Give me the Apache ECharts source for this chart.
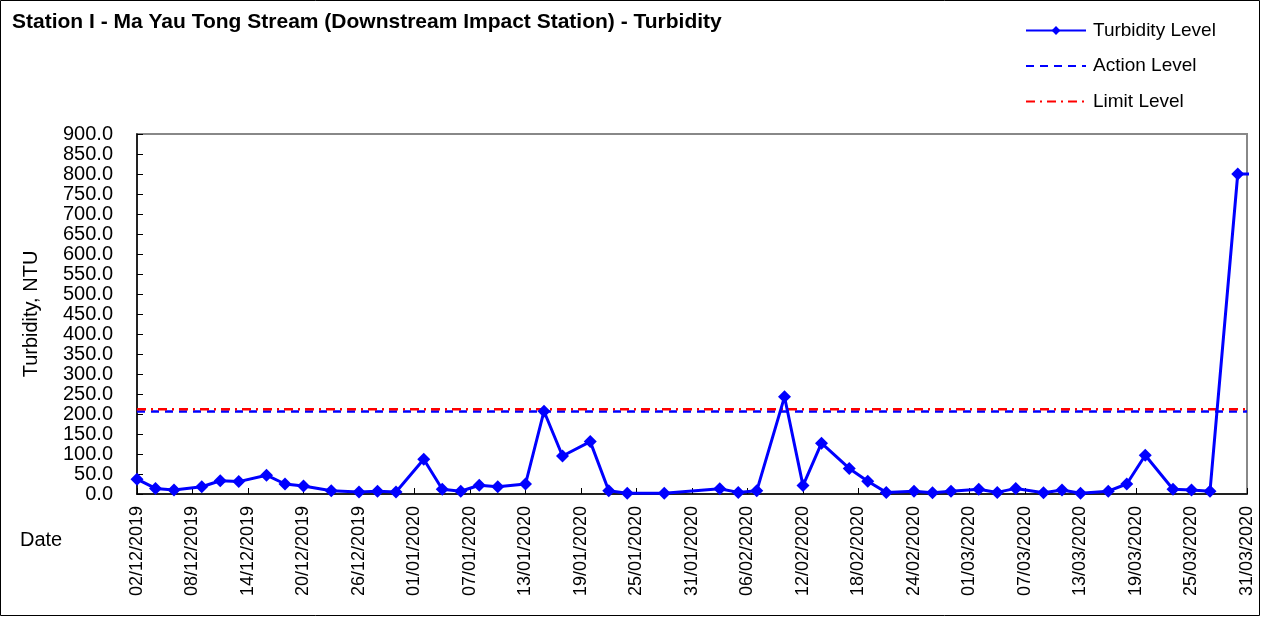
<!DOCTYPE html>
<html>
<head>
<meta charset="utf-8">
<title>Station I - Turbidity</title>
<script src="https://cdn.jsdelivr.net/npm/echarts@6/dist/echarts.min.js"></script>
<style>
  html, body { margin: 0; padding: 0; background: #fff; }
  #chart { width: 1261px; height: 617px; }
</style>
</head>
<body>
<div id="chart"></div>
<script>
// Sampling dates (dd/mm/yyyy) and measured turbidity in NTU
const sampleDates = [
  '02/12/2019', '04/12/2019', '06/12/2019', '09/12/2019', '11/12/2019', '13/12/2019',
  '16/12/2019', '18/12/2019', '20/12/2019', '23/12/2019', '26/12/2019', '28/12/2019',
  '30/12/2019', '02/01/2020', '04/01/2020', '06/01/2020', '08/01/2020', '10/01/2020',
  '13/01/2020', '15/01/2020', '17/01/2020', '20/01/2020', '22/01/2020', '24/01/2020',
  '28/01/2020', '03/02/2020', '05/02/2020', '07/02/2020', '10/02/2020', '12/02/2020',
  '14/02/2020', '17/02/2020', '19/02/2020', '21/02/2020', '24/02/2020', '26/02/2020',
  '28/02/2020', '02/03/2020', '04/03/2020', '06/03/2020', '09/03/2020', '11/03/2020',
  '13/03/2020', '16/03/2020', '18/03/2020', '20/03/2020', '23/03/2020', '25/03/2020',
  '27/03/2020', '30/03/2020', '01/04/2020'
];
const turbidity = [
  37, 14, 10, 18, 33, 31,
  47, 25, 20, 8, 5, 7,
  5, 87, 12, 7, 22, 18,
  25, 207, 95, 131, 8, 2,
  2, 13, 4, 8, 243, 21,
  127, 64, 32, 4, 7, 3,
  7, 12, 4, 14, 3, 10,
  2, 7, 25, 97, 12, 10,
  7, 800, 800
];

// Compliance levels (NTU)
const actionLevel = 206;
const limitLevel = 212;

// Axis range
const axisStart = '02/12/2019';
const axisEnd = '31/03/2020';
const tickDays = 6;
const yMax = 900;
const yStep = 50;

const DAY = 86400000;
function parseDate(s) {
  const [d, m, y] = s.split('/').map(Number);
  return Date.UTC(y, m - 1, d);
}
const t0 = parseDate(axisStart);
const spanDays = Math.round((parseDate(axisEnd) - t0) / DAY);
const dayOf = s => Math.round((parseDate(s) - t0) / DAY);
const pad = n => (n < 10 ? '0' : '') + n;
function fmtDay(v) {
  const d = new Date(t0 + v * DAY);
  return pad(d.getUTCDate()) + '/' + pad(d.getUTCMonth() + 1) + '/' + d.getUTCFullYear();
}

const turbidityData = sampleDates.map((s, i) => [dayOf(s), turbidity[i]]);
const actionData = [[0, actionLevel], [spanDays, actionLevel]];
const limitData = [[0, limitLevel], [spanDays, limitLevel]];

const FONT = '"Liberation Sans", Arial, sans-serif';
const chart = echarts.init(document.getElementById('chart'), null, { renderer: 'canvas' });

chart.setOption({
  animation: false,
  backgroundColor: '#ffffff',
  textStyle: { fontFamily: FONT, color: '#000' },
  title: {
    text: 'Station I - Ma Yau Tong Stream (Downstream Impact Station) - Turbidity',
    left: 7,
    top: 7,
    textStyle: { fontFamily: FONT, fontSize: 21, fontWeight: 'bold', color: '#000' }
  },
  legend: {
    orient: 'vertical',
    left: 1020,
    top: 15,
    itemWidth: 60,
    itemHeight: 11,
    itemGap: 14.5,
    textStyle: { fontFamily: FONT, fontSize: 19, lineHeight: 21, color: '#000', padding: [0, 0, 0, 2] },
    data: [
      { name: 'Turbidity Level' },
      { name: 'Action Level', itemStyle: { opacity: 0 } },
      { name: 'Limit Level', itemStyle: { opacity: 0 } }
    ]
  },
  grid: {
    left: 137,
    top: 134,
    right: 14,
    bottom: 123,
    show: true,
    borderColor: '#888',
    borderWidth: 2
  },
  xAxis: {
    type: 'value',
    min: 0,
    max: spanDays,
    interval: tickDays,
    axisLine: { lineStyle: { color: '#000', width: 1.5 } },
    axisTick: { inside: true, length: 6, lineStyle: { color: '#000' } },
    splitLine: { show: false },
    axisLabel: {
      rotate: 90,
      margin: 12,
      fontFamily: FONT,
      fontSize: 18,
      color: '#000',
      formatter: fmtDay
    }
  },
  yAxis: {
    type: 'value',
    min: 0,
    max: yMax,
    interval: yStep,
    name: 'Turbidity, NTU',
    nameLocation: 'middle',
    nameGap: 96,
    nameRotate: 90,
    nameTextStyle: { fontFamily: FONT, fontSize: 20, color: '#000' },
    axisLine: { show: true, lineStyle: { color: '#000', width: 1.5 } },
    axisTick: { show: true, inside: true, length: 6, lineStyle: { color: '#000' } },
    splitLine: { show: false },
    axisLabel: {
      margin: 24,
      fontFamily: FONT,
      fontSize: 20,
      color: '#000',
      formatter: v => v.toFixed(1)
    }
  },
  graphic: [
    {
      type: 'rect',
      shape: { x: 0.5, y: 0.5, width: 1259, height: 615 },
      style: { fill: 'none', stroke: '#000', lineWidth: 1 },
      silent: true
    },
    {
      type: 'text',
      left: 20,
      top: 530,
      style: { text: 'Date', fontFamily: FONT, fontSize: 20, fill: '#000' }
    }
  ],
  series: [
    {
      name: 'Action Level',
      type: 'line',
      data: actionData,
      symbol: 'none',
      lineStyle: { color: '#0000ff', width: 2.5, type: [8, 6] },
      itemStyle: { color: '#0000ff' },
      z: 2
    },
    {
      name: 'Limit Level',
      type: 'line',
      data: limitData,
      symbol: 'none',
      lineStyle: { color: '#ff0000', width: 2.5, type: [9, 5, 2, 5] },
      itemStyle: { color: '#ff0000' },
      z: 2
    },
    {
      name: 'Turbidity Level',
      type: 'line',
      data: turbidityData,
      clip: true,
      symbol: 'diamond',
      symbolSize: 13,
      lineStyle: { color: '#0000ff', width: 3 },
      itemStyle: { color: '#0000ff' },
      z: 3
    }
  ]
});
</script>
</body>
</html>
